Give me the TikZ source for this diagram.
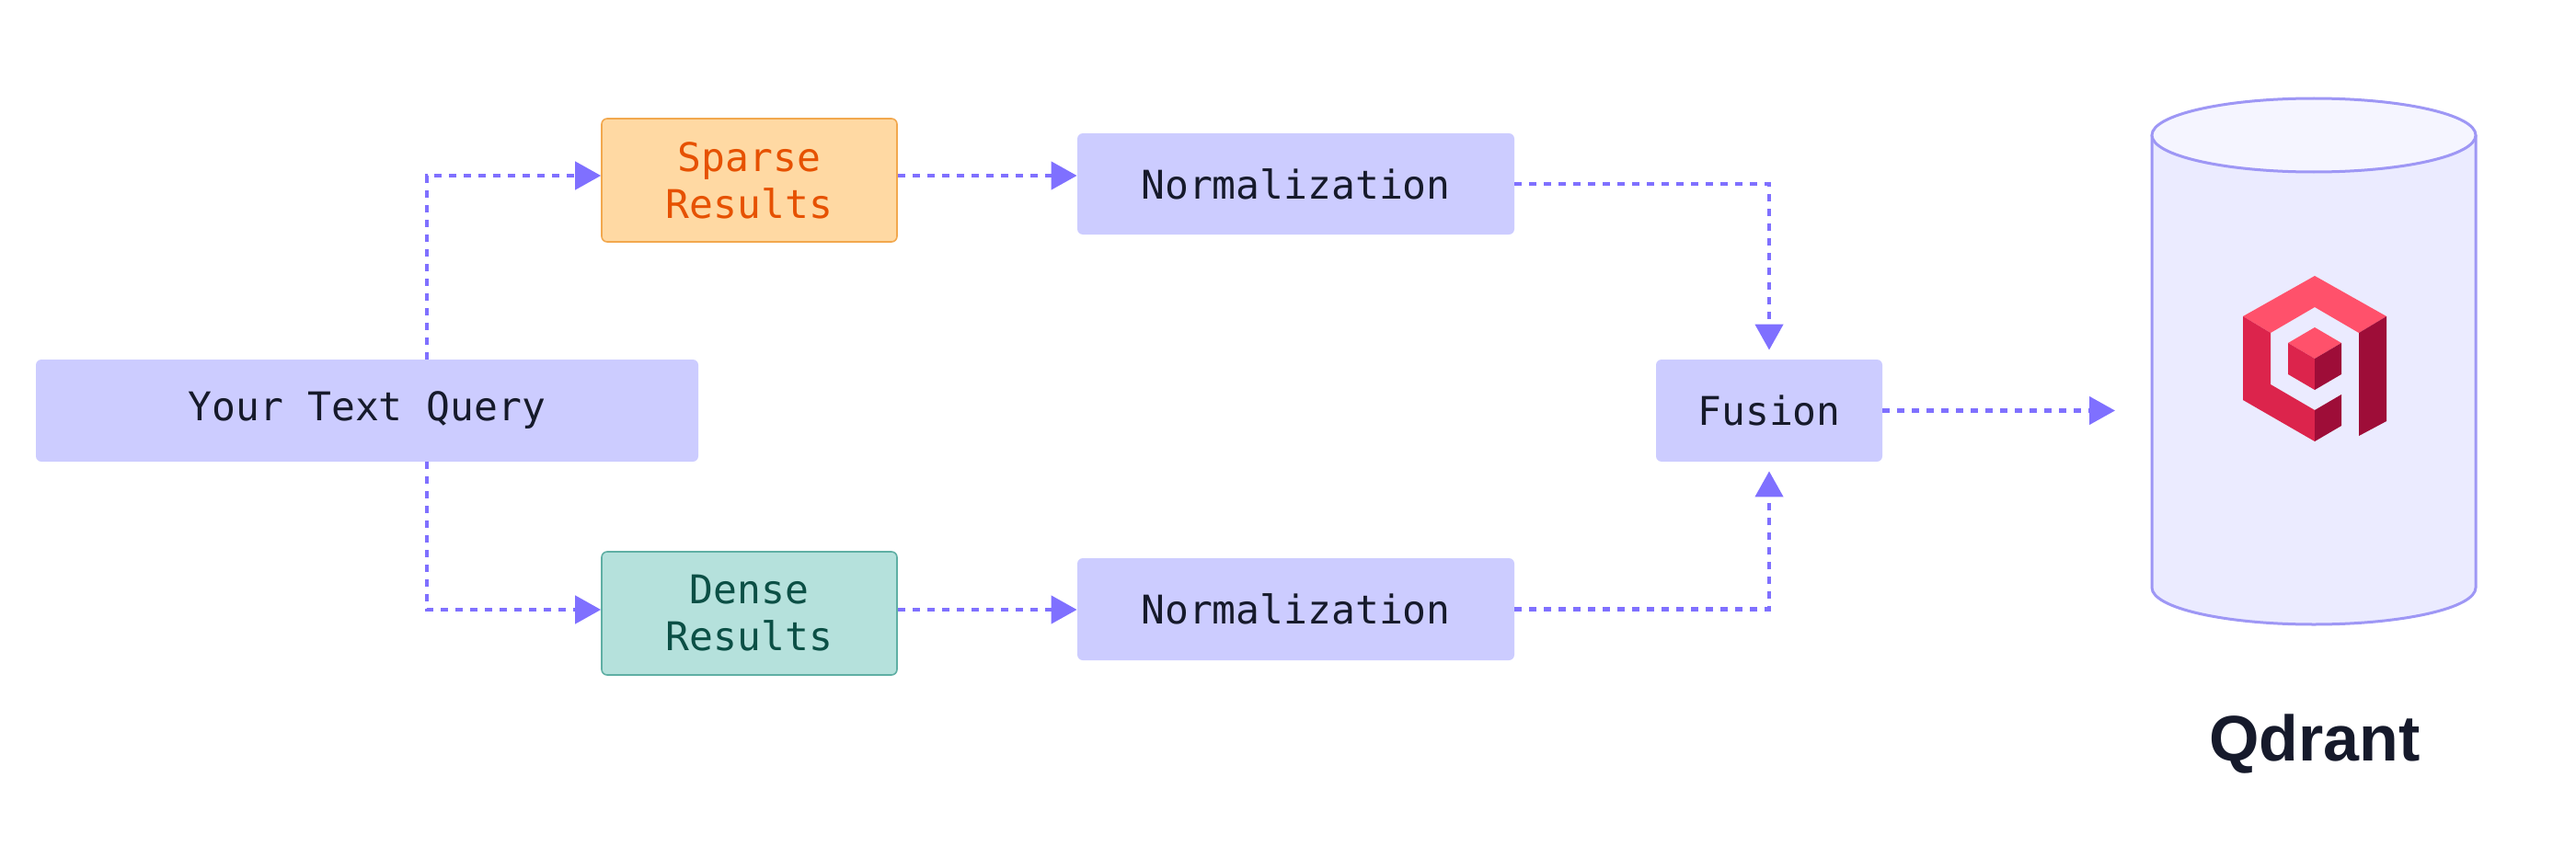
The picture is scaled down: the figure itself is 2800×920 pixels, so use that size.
\documentclass[tikz,border=0pt]{standalone}
\usepackage{fontspec}
\setmonofont{DejaVu Sans Mono}
\newfontfamily\logofont{Liberation Sans}
\usetikzlibrary{arrows.meta}
\definecolor{boxc}{HTML}{CCCCFF}
\definecolor{arr}{HTML}{7F70FF}
\definecolor{spf}{HTML}{FFD9A3}\definecolor{spd}{HTML}{F2A84E}\definecolor{spt}{HTML}{E65100}
\definecolor{def}{HTML}{B5E1DC}\definecolor{ded}{HTML}{5FAFA4}\definecolor{det}{HTML}{0B4F45}
\definecolor{cylf}{HTML}{EBEBFF}\definecolor{cyltop}{HTML}{F5F5FF}\definecolor{cyld}{HTML}{9E97F5}
\definecolor{lA}{HTML}{FF516B}\definecolor{lB}{HTML}{DC244C}\definecolor{lC}{HTML}{9E0D38}
\definecolor{txt}{HTML}{161A2B}
\begin{document}
\begin{tikzpicture}[x=0.5pt,y=-0.5pt,
  box/.style={rectangle,rounded corners=3pt,fill=boxc,draw=none,inner sep=0pt,font=\ttfamily\fontsize{21.5}{25.5}\selectfont,text=txt,align=center},
  link/.style={arr,line width=2.2pt,dash pattern=on 4pt off 4pt,-{Triangle[length=14pt,width=15pt]}}]
\useasboundingbox (0,0) rectangle (2800,920);
\node[box,minimum width=360pt,minimum height=55.5pt] (query) at (399,446.5) {Your Text Query};
\node[box,minimum width=160.5pt,minimum height=67pt,fill=spf,draw=spd,line width=0.8pt,text=spt] (sparse) at (814.5,196) {Sparse\\Results};
\node[box,minimum width=160.5pt,minimum height=67pt,fill=def,draw=ded,line width=0.8pt,text=det] (dense) at (814.5,667) {Dense\\Results};
\node[box,minimum width=237.5pt,minimum height=55pt] (normt) at (1408.5,200) {Normalization};
\node[box,minimum width=237.5pt,minimum height=55.5pt] (normb) at (1408.5,662.5) {Normalization};
\node[box,minimum width=123pt,minimum height=55.5pt] (fusion) at (1923,446.5) {Fusion};
% cylinder
\fill[cylf] (2339,147) -- (2339,639) arc[start angle=180,end angle=0,x radius=176,y radius=40] -- (2691,147) -- cycle;
\draw[cyld,line width=1.5pt] (2339,147) -- (2339,639) arc[start angle=180,end angle=0,x radius=176,y radius=40] -- (2691,147);
\draw[cyld,line width=1.5pt,fill=cyltop] (2515,147) ellipse[x radius=176,y radius=40];
\coordinate (db) at (2339,446.5);
% logo
\fill[lA] (2438,344)--(2516,300)--(2594,344)--(2564,362)--(2516,334)--(2468,362)--cycle;
\fill[lB] (2438,344)--(2468,362)--(2468,418)--(2516,446)--(2516,480)--(2438,435)--cycle;
\fill[lC] (2516,446)--(2545,429)--(2545,463)--(2516,480)--cycle;
\fill[lC] (2564,362)--(2594,344)--(2594,458)--(2564,474)--cycle;
\fill[lA] (2516,356)--(2545,373)--(2516,390)--(2487,373)--cycle;
\fill[lB] (2487,373)--(2516,390)--(2516,424)--(2487,407)--cycle;
\fill[lC] (2545,373)--(2545,407)--(2516,424)--(2516,390)--cycle;
\node[font=\logofont\bfseries\fontsize{35}{40}\selectfont,text=txt] (qd) at (2516,809) {Qdrant};
% connectors
\draw[link] (464,0 |- query.north) |- (sparse.west |- 0,191);
\draw[link] (464,0 |- query.south) |- (dense.west |- 0,663);
\draw[link] (sparse.east |- 0,191) -- (normt.west |- 0,191);
\draw[link] (dense.east |- 0,663) -- (normb.west |- 0,663);
\draw[link,shorten >=5pt] (normt.east) -| (fusion.north);
\draw[link,shorten >=5pt] (normb.east) -| (fusion.south);
\draw[link,shorten >=20pt] (fusion.east) -- (db);
\end{tikzpicture}
\end{document}
